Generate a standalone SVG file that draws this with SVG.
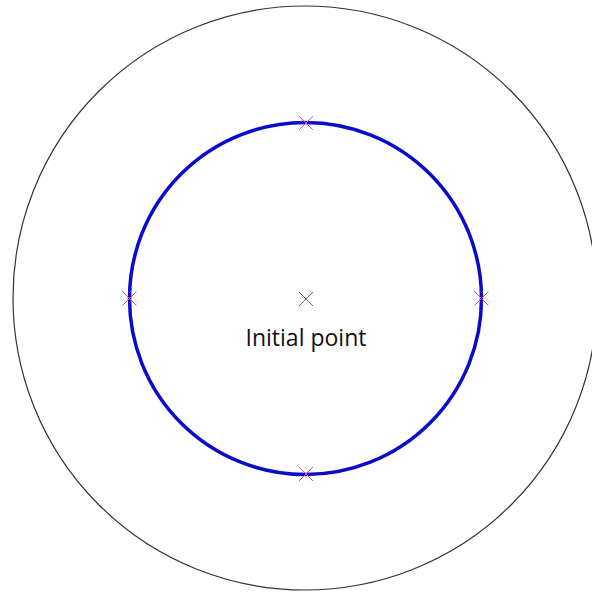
<svg xmlns="http://www.w3.org/2000/svg" width="592" height="593" viewBox="0 0 592 593">
<style>
.mk{stroke:#e0507a;stroke-width:1;fill:none}
.lbl{font-family:"Open Sans","Noto Sans",sans-serif;font-size:23px;fill:#111}
</style>
<defs>
<path id="x" d="M-7,-7L7,7M-7,7L7,-7"/>
</defs>
<rect width="592" height="593" fill="#fff"/>
<g id="outer"><circle cx="305" cy="298" r="292" fill="none" stroke="#333" stroke-width="1.2"/></g>
<g id="path"><circle cx="305.5" cy="298.5" r="176" fill="none" stroke="#0a0acc" stroke-width="3.5"/></g>
<g id="markers">
<use href="#x" x="306" y="123" class="mk"/>
<use href="#x" x="129.5" y="298.5" class="mk"/>
<use href="#x" x="481.5" y="298.5" class="mk"/>
<use href="#x" x="306" y="474" class="mk"/>
</g>
<g id="initial">
<use href="#x" x="306" y="299" style="stroke:#666;stroke-width:1;fill:none"/>
<text class="lbl" x="306" y="346" text-anchor="middle">Initial point</text>
</g>
</svg>
